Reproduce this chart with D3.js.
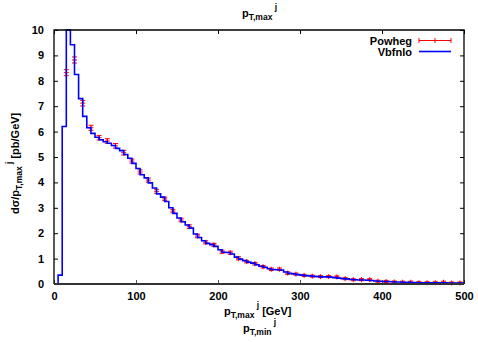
<!DOCTYPE html>
<html>
<head>
<meta charset="utf-8">
<script src="https://cdn.jsdelivr.net/npm/d3@7"></script>
<style>
  body { margin: 0; background: #fff; }
  text { font-family: "Liberation Sans", Arial, sans-serif; font-weight: bold; }
</style>
</head>
<body>
<svg id="chart" width="478" height="342"></svg>
<script>
// Vbfnlo: 5 GeV bins starting at 0 GeV
var vbfBinWidth = 5
var vbfValues = [
  0, 0.35, 6.2, 10.4, 9.42, 8.25, 7.3, 6.6, 6.15, 5.93,      // 0-50
  5.78, 5.68, 5.6, 5.54, 5.45, 5.34, 5.25, 5.1, 4.95, 4.75,  // 50-100
  4.55, 4.3, 4.18, 3.98, 3.78, 3.55, 3.42, 3.25, 3.0, 2.78,  // 100-150
  2.6, 2.45, 2.32, 2.2, 1.97, 1.83, 1.7, 1.6, 1.55, 1.48,    // 150-200
  1.35, 1.25, 1.24, 1.18, 1.06, 0.98, 0.92, 0.86, 0.82, 0.76,// 200-250
  0.7, 0.66, 0.6, 0.57, 0.56, 0.55, 0.47, 0.42, 0.4, 0.37,   // 250-300
  0.35, 0.33, 0.32, 0.3, 0.29, 0.28, 0.28, 0.27, 0.25, 0.23, // 300-350
  0.21, 0.2, 0.18, 0.17, 0.16, 0.16, 0.15, 0.14, 0.12, 0.11, // 350-400
  0.1, 0.1, 0.09, 0.08, 0.08, 0.07, 0.07, 0.06, 0.06, 0.05,  // 400-450
  0.05, 0.05, 0.05, 0.05, 0.05, 0.05, 0.04, 0.04, 0.04, 0.04 // 450-500
]

// Powheg: points at 10 GeV bin centres
var powhegX = [15, 25, 35, 45, 55, 65, 75, 85, 95, 105, 115, 125, 135, 145, 155, 165, 175,
  185, 195, 205, 215, 225, 235, 245, 255, 265, 275, 285, 295, 305, 315, 325, 335, 345,
  355, 365, 375, 385, 395, 405, 415, 425, 435, 445, 455, 465, 475, 485, 495]
var powhegY = [8.32, 8.82, 7.12, 6.15, 5.76, 5.63, 5.44, 5.17, 4.84, 4.41, 4.09, 3.65, 3.35, 2.87, 2.52, 2.26, 1.89,
  1.64, 1.54, 1.27, 1.23, 1.01, 0.88, 0.80, 0.68, 0.58, 0.58, 0.43, 0.39, 0.34, 0.31, 0.29, 0.29, 0.28,
  0.21, 0.17, 0.17, 0.17, 0.11, 0.10, 0.08, 0.07, 0.07, 0.05, 0.05, 0.05, 0.07, 0.04, 0.04]
var powhegErr = [0.1, 0.1, 0.09, 0.08, 0.07, 0.07, 0.07, 0.07, 0.06, 0.06, 0.06, 0.06, 0.05, 0.05, 0.05, 0.05, 0.05,
  0.04, 0.04, 0.04, 0.04, 0.04, 0.03, 0.03, 0.03, 0.03, 0.03, 0.03, 0.02, 0.02, 0.02, 0.02, 0.02, 0.02,
  0.02, 0.02, 0.02, 0.02, 0.02, 0.02, 0.02, 0.02, 0.02, 0.02, 0.02, 0.02, 0.02, 0.02, 0.02]

var xTicks = [0, 100, 200, 300, 400, 500]
var yTicks = [0, 1, 2, 3, 4, 5, 6, 7, 8, 9, 10]

var margin = {top: 30, right: 14, bottom: 58, left: 54},
    width = 478 - margin.left - margin.right,
    height = 342 - margin.top - margin.bottom;

var svg = d3.select("#chart")
var g = svg.append("g")
    .attr("transform", "translate(" + margin.left + "," + margin.top + ")")

var x = d3.scaleLinear().domain([0, 500]).range([0, width])
var y = d3.scaleLinear().domain([0, 10]).range([height, 0]).clamp(true)

// axes, ticks pointing inwards
var xAxis = g.append("g")
    .attr("transform", "translate(0," + height + ")")
    .call(d3.axisBottom(x).tickValues(xTicks).tickSize(-4).tickPadding(8))
xAxis.select(".domain").remove()
xAxis.selectAll("text").style("font-size", "11px").attr("fill", "#000")
xAxis.selectAll("line").attr("stroke", "#555")

var yAxis = g.append("g")
    .call(d3.axisLeft(y).tickValues(yTicks).tickSize(-4).tickPadding(10))
yAxis.select(".domain").remove()
yAxis.selectAll("text").style("font-size", "11px").attr("fill", "#000")

// mirrored ticks on top and right
var topAxis = g.append("g")
    .call(d3.axisTop(x).tickValues(xTicks).tickSize(-4).tickFormat(""))
topAxis.select(".domain").remove()
var rightAxis = g.append("g")
    .attr("transform", "translate(" + width + ",0)")
    .call(d3.axisRight(y).tickValues(yTicks).tickSize(-4).tickFormat(""))
rightAxis.select(".domain").remove()

// Powheg points with error bars
var red = "#ff0000"
var pts = g.append("g").attr("stroke", red).attr("stroke-width", 1).attr("fill", "none")
powhegX.forEach(function(px, i) {
  var cx = x(px), cy = y(powhegY[i])
  var lo = y(powhegY[i] - powhegErr[i]), hi = y(powhegY[i] + powhegErr[i])
  pts.append("line").attr("x1", cx).attr("x2", cx).attr("y1", lo + 0.5).attr("y2", hi - 0.5)
  pts.append("line").attr("x1", cx - 2.5).attr("x2", cx + 2.5).attr("y1", lo + 0.5).attr("y2", lo + 0.5)
  pts.append("line").attr("x1", cx - 2.5).attr("x2", cx + 2.5).attr("y1", hi - 0.5).attr("y2", hi - 0.5)
  pts.append("line").attr("x1", cx - 2.5).attr("x2", cx + 2.5).attr("y1", cy).attr("y2", cy)
  pts.append("line").attr("x1", cx).attr("x2", cx).attr("y1", cy - 2.5).attr("y2", cy + 2.5)
})

// Vbfnlo histogram steps
var steps = vbfValues.map(function(v, i) { return [i * vbfBinWidth, v] })
steps.push([vbfValues.length * vbfBinWidth, vbfValues[vbfValues.length - 1]])
var blue = "#0000ff"
g.append("path")
    .datum(steps)
    .attr("fill", "none")
    .attr("stroke", blue)
    .attr("stroke-width", 1.6)
    .attr("d", d3.line().x(d => x(d[0])).y(d => y(d[1])).curve(d3.curveStepAfter))

// border
g.append("path")
    .attr("d", "M0," + height + "V0H" + width + "V" + height)
    .attr("fill", "none").attr("stroke", "#000").attr("stroke-width", 1.3)
g.append("line")
    .attr("x1", 0).attr("x2", width).attr("y1", height).attr("y2", height)
    .attr("stroke", "#333").attr("stroke-width", 2.2)

// text helper for p_{sub}^{sup}
function pLabel(sel, sub, sup, extra) {
  sel.append("tspan").text("p")
  sel.append("tspan").attr("dy", 3).style("font-size", "8.5px").text(sub)
  sel.append("tspan").attr("dy", -10).style("font-size", "8.5px").text(sup)
  if (extra) sel.append("tspan").attr("dy", 7).text(extra)
}

// title
var title = svg.append("text").attr("x", 242).attr("y", 17).style("font-size", "11px")
pLabel(title, "T,max", " j")

// x label, two lines
var xl1 = svg.append("text").attr("x", 224).attr("y", 315).style("font-size", "11px")
pLabel(xl1, "T,max", " j", " [GeV]")
var xl2 = svg.append("text").attr("x", 243).attr("y", 332).style("font-size", "11px")
pLabel(xl2, "T,min", " j")

// y label
var yl = svg.append("text")
    .attr("transform", "translate(19,214) rotate(-90)")
    .style("font-size", "11px")
yl.append("tspan").text("d\u03c3/p")
yl.append("tspan").attr("dy", 3).style("font-size", "8.5px").text("T,max")
yl.append("tspan").attr("dy", -10).style("font-size", "8.5px").text(" j")
yl.append("tspan").attr("dy", 7).text("  [pb/GeV]")

// legend
var legend = svg.append("g").style("font-size", "11px")
legend.append("text").attr("x", 412).attr("y", 45).attr("text-anchor", "end").text("Powheg")
legend.append("text").attr("x", 412).attr("y", 56).attr("text-anchor", "end").text("Vbfnlo")
var lg = legend.append("g").attr("stroke", red).attr("stroke-width", 1)
lg.append("line").attr("x1", 419).attr("x2", 451).attr("y1", 40.5).attr("y2", 40.5)
;[419, 435, 451].forEach(function(lx) {
  lg.append("line").attr("x1", lx).attr("x2", lx).attr("y1", 38).attr("y2", 43)
})
legend.append("line").attr("x1", 419).attr("x2", 451).attr("y1", 51.5).attr("y2", 51.5)
    .attr("stroke", blue).attr("stroke-width", 1.6)
</script>
</body>
</html>
